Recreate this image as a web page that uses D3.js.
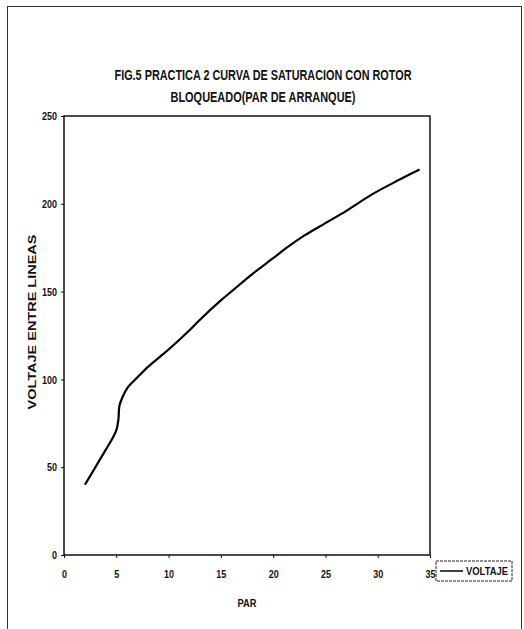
<!DOCTYPE html>
<html><head><meta charset="utf-8">
<script src="https://cdn.jsdelivr.net/npm/d3@7/dist/d3.min.js"></script>
<style>
body{margin:0;background:#fff;}
text{font-family:"Liberation Sans Narrow","Arial Narrow","Liberation Sans",sans-serif;font-weight:bold;fill:#111;}
</style></head>
<body>
<svg id="c" width="524" height="629"></svg>
<script>
const titleLines = ["FIG.5  PRACTICA 2  CURVA DE SATURACION CON ROTOR", "BLOQUEADO(PAR DE ARRANQUE)"];
const xLabel = "PAR";
const yLabel = "VOLTAJE ENTRE LINEAS";
const seriesName = "VOLTAJE";
const xTicks = [0, 5, 10, 15, 20, 25, 30, 35];
const yTicks = [0, 50, 100, 150, 200, 250];
const par =     [2, 3, 4, 4.6, 5, 5.2, 5.3, 5.6, 6.1, 7, 8, 9.2, 10, 12, 13, 15, 16.2, 18, 20, 21.3, 23, 25, 27, 29.5, 32, 34];
const voltaje = [40, 50, 60, 66, 71, 77, 85, 90, 95.5, 101, 107, 113, 117, 128, 134, 145, 151, 160, 169, 175, 182, 189, 196, 205.5, 213.5, 219.5];

const svg = d3.select("#c");
const L = 64, R = 430, T = 116, B = 555;
const x = d3.scaleLinear().domain([0, 35]).range([L, R]);
const y = d3.scaleLinear().domain([0, 250]).range([B, T]);

// outer frame
svg.append("rect").attr("x", 7.5).attr("y", 6.5).attr("width", 514).attr("height", 640)
  .attr("fill", "none").attr("stroke", "#333").attr("stroke-width", 1);

// title
const titleLen = [297, 185];
svg.selectAll("text.title").data(titleLines).enter().append("text")
  .attr("x", 263).attr("y", (d, i) => 80 + i * 22).attr("text-anchor", "middle")
  .attr("textLength", (d, i) => titleLen[i]).attr("lengthAdjust", "spacingAndGlyphs")
  .style("font-size", "14px").text(d => d);

// axes
const xAxis = d3.axisBottom(x).tickValues(xTicks).tickSize(3).tickPadding(12);
const yAxis = d3.axisLeft(y).tickValues(yTicks).tickSize(3).tickPadding(4);
const gx = svg.append("g").attr("transform", `translate(0,${B})`).call(xAxis);
const gy = svg.append("g").attr("transform", `translate(${L},0)`).call(yAxis);
[gx, gy].forEach(g => {
  g.select(".domain").remove();
  g.selectAll("line").attr("stroke", "#111");
  g.selectAll("text").style("font-size", "11.5px").style("font-family", '"Liberation Sans Narrow","Arial Narrow","Liberation Sans",sans-serif').style("font-weight", "bold")
    .attr("textLength", d => String(d).length * 5).attr("lengthAdjust", "spacingAndGlyphs");
});

// plot frame
svg.append("rect").attr("x", L).attr("y", T).attr("width", R - L).attr("height", B - T)
  .attr("fill", "none").attr("stroke", "#111").attr("stroke-width", 1.5);

// axis titles
svg.append("text").attr("x", (L + R) / 2).attr("y", 607).attr("text-anchor", "middle")
  .attr("textLength", 19).attr("lengthAdjust", "spacingAndGlyphs")
  .style("font-size", "11px").text(xLabel);
svg.append("text").attr("transform", `translate(36,322) rotate(-90)`)
  .attr("text-anchor", "middle")
  .attr("textLength", 175).attr("lengthAdjust", "spacingAndGlyphs")
  .style("font-family", '"Liberation Sans","Arial",sans-serif').style("font-size", "11px").text(yLabel);

// line
const pts = par.map((p, i) => [p, voltaje[i]]);
svg.append("path").datum(pts)
  .attr("d", d3.line().x(d => x(d[0])).y(d => y(d[1])).curve(d3.curveCatmullRom))
  .attr("fill", "none").attr("stroke", "#000").attr("stroke-width", 2.2);

// legend
const lg = svg.append("g").attr("transform", "translate(436,561)");
lg.append("rect").attr("width", 76).attr("height", 20).attr("fill", "#fff")
  .attr("stroke", "#222").attr("stroke-width", 1).attr("stroke-dasharray", "3,1");
lg.append("line").attr("x1", 4).attr("x2", 27).attr("y1", 10).attr("y2", 10)
  .attr("stroke", "#000").attr("stroke-width", 1.5);
lg.append("text").attr("x", 30).attr("y", 14).style("font-size", "11px")
  .attr("textLength", 42).attr("lengthAdjust", "spacingAndGlyphs").text(seriesName);
</script>
</body></html>
